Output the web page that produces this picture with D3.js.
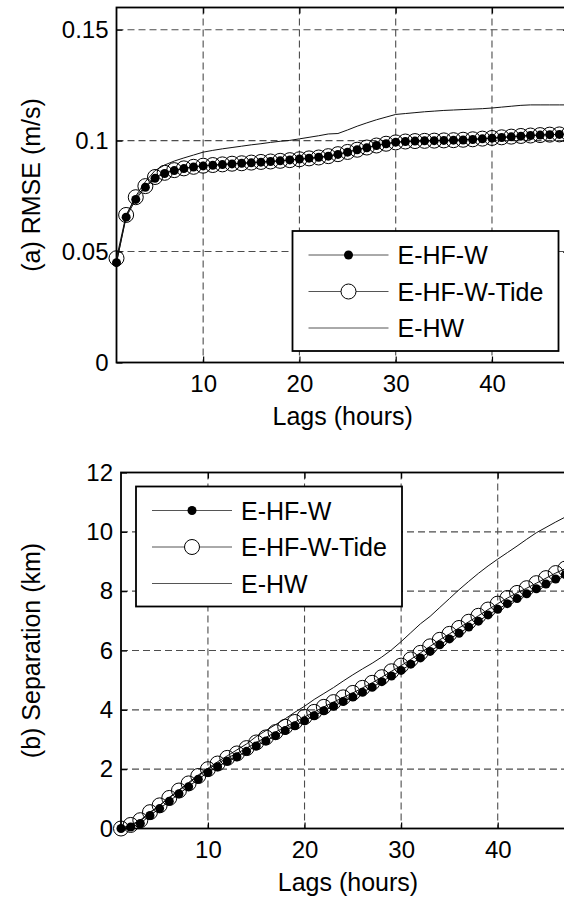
<!DOCTYPE html>
<html>
<head>
<meta charset="utf-8">
<script src="https://cdn.jsdelivr.net/npm/d3@7"></script>
<style>
  body { margin: 0; background: #fff; }
  svg { display: block; font-family: "Liberation Sans", Arial, sans-serif; }
</style>
</head>
<body>
<svg id="chart"></svg>
<script>
// lags in hours
const lags = d3.range(1, 49);

// (a) RMSE (m/s)
const rmseHFW = [0.045, 0.0655, 0.0735, 0.079, 0.083, 0.0852, 0.0865, 0.0874, 0.0881, 0.0886,
  0.0889, 0.0892, 0.0895, 0.0898, 0.09, 0.0903, 0.0906, 0.0909, 0.0913, 0.0917,
  0.0921, 0.0925, 0.093, 0.0938, 0.0948, 0.0959, 0.0968, 0.0978, 0.0986, 0.0993,
  0.0996, 0.0998, 0.0999, 0.1, 0.1001, 0.1002, 0.1003, 0.1005, 0.1008, 0.1011,
  0.1014, 0.1017, 0.102, 0.1023, 0.1025, 0.1027, 0.1028, 0.1029];
const rmseHFWTide = [0.047, 0.0665, 0.0745, 0.0795, 0.0836, 0.0855, 0.0867, 0.0875, 0.0882, 0.0887,
  0.089, 0.0893, 0.0896, 0.0898, 0.0901, 0.0904, 0.0906, 0.0909, 0.0912, 0.0916,
  0.092, 0.0924, 0.093, 0.0939, 0.0949, 0.0959, 0.0969, 0.0978, 0.0986, 0.0992,
  0.0996, 0.0998, 0.0999, 0.1, 0.1001, 0.1002, 0.1004, 0.1006, 0.1009, 0.1012,
  0.1015, 0.1018, 0.1021, 0.1023, 0.1025, 0.1027, 0.1028, 0.103];
const rmseHW = [0.045, 0.066, 0.075, 0.0815, 0.0865, 0.089, 0.0908, 0.0922, 0.0935, 0.0948,
  0.0956, 0.0963, 0.0969, 0.0975, 0.0981, 0.0986, 0.0992, 0.0997, 0.1001, 0.1008,
  0.1015, 0.1022, 0.103, 0.1032, 0.1048, 0.1065, 0.108, 0.1094, 0.1106, 0.1118,
  0.1122, 0.1126, 0.113, 0.1133, 0.1136, 0.1138, 0.114, 0.1142, 0.1144, 0.1147,
  0.1151, 0.1155, 0.1159, 0.1161, 0.1161, 0.1161, 0.1161, 0.1161];

// (b) Separation (km)
const sepHFW = [0, 0.05, 0.17, 0.44, 0.67, 0.92, 1.17, 1.41, 1.66, 1.89,
  2.08, 2.27, 2.42, 2.6, 2.78, 2.95, 3.13, 3.3, 3.46, 3.63,
  3.8, 3.97, 4.12, 4.28, 4.43, 4.59, 4.76, 4.95, 5.14, 5.33,
  5.54, 5.75, 5.97, 6.19, 6.39, 6.58, 6.79, 6.99, 7.2, 7.39,
  7.58, 7.75, 7.91, 8.08, 8.24, 8.41, 8.56, 8.72];
const sepHFWTide = [0, 0.12, 0.28, 0.55, 0.78, 1.03, 1.28, 1.52, 1.77, 2.0,
  2.19, 2.38, 2.53, 2.71, 2.9, 3.07, 3.25, 3.43, 3.59, 3.76,
  3.93, 4.1, 4.26, 4.42, 4.57, 4.74, 4.91, 5.1, 5.3, 5.49,
  5.7, 5.92, 6.14, 6.36, 6.56, 6.76, 6.97, 7.17, 7.38, 7.58,
  7.77, 7.94, 8.1, 8.27, 8.44, 8.61, 8.76, 8.92];
const sepHW = [0, 0.1, 0.25, 0.52, 0.78, 1.05, 1.3, 1.55, 1.8, 2.03,
  2.25, 2.45, 2.65, 2.85, 3.1, 3.3, 3.5, 3.7, 3.92, 4.12,
  4.35, 4.55, 4.75, 4.97, 5.18, 5.38, 5.57, 5.78, 6.02, 6.3,
  6.6, 6.9, 7.15, 7.45, 7.75, 8.05, 8.33, 8.6, 8.85, 9.08,
  9.3, 9.52, 9.75, 9.97, 10.15, 10.33, 10.5, 10.67];

const xTicks = [10, 20, 30, 40];
const rmseTicks = [0, 0.05, 0.1, 0.15];
const rmseTickLabels = ["0", "0.05", "0.1", "0.15"];
const sepTicks = [0, 2, 4, 6, 8, 10, 12];
const legendLabels = ["E-HF-W", "E-HF-W-Tide", "E-HW"];

const W = 564, H = 903;
const svg = d3.select("#chart").attr("width", W).attr("height", H);
svg.append("rect").attr("width", W).attr("height", H).attr("fill", "#fff");

function drawPanel(p) {
  const x = d3.scaleLinear().domain([1, 48]).range([p.left, p.right]);
  const y = d3.scaleLinear().domain(p.yDomain).range([p.bottom, p.top]);
  const g = svg.append("g");

  // dashed grid
  g.selectAll(".vgrid").data(xTicks).enter().append("line")
    .attr("x1", d => x(d)).attr("x2", d => x(d))
    .attr("y1", p.top).attr("y2", p.bottom)
    .attr("stroke", "#4d4d4d").attr("stroke-width", 1.1)
    .attr("stroke-dasharray", "7,4");
  g.selectAll(".hgrid").data(p.yTicks.filter(d => d > p.yDomain[0] && d < p.yDomain[1])).enter().append("line")
    .attr("x1", p.left).attr("x2", p.right)
    .attr("y1", d => y(d)).attr("y2", d => y(d))
    .attr("stroke", "#4d4d4d").attr("stroke-width", 1.1)
    .attr("stroke-dasharray", "7,4");

  // axes with inward ticks
  const bottomAxis = g.append("g").attr("transform", `translate(0,${p.bottom})`)
    .call(d3.axisBottom(x).tickValues(xTicks).tickSize(-6).tickPadding(12));
  g.append("g").attr("transform", `translate(0,${p.top})`)
    .call(d3.axisTop(x).tickValues(xTicks).tickSize(-6).tickFormat(""));
  const leftAxis = g.append("g").attr("transform", `translate(${p.left},0)`)
    .call(d3.axisLeft(y).tickValues(p.yTicks).tickSize(-6).tickPadding(8)
      .tickFormat((d, i) => p.yTickLabels[i]));
  g.append("g").attr("transform", `translate(${p.right},0)`)
    .call(d3.axisRight(y).tickValues(p.yTicks).tickSize(-6).tickFormat(""));
  g.selectAll(".domain").remove();
  g.selectAll(".tick line").attr("stroke", "#000").attr("stroke-width", 1.2);
  [bottomAxis, leftAxis].forEach(a => a.selectAll("text")
    .attr("font-size", 24).attr("fill", "#000")
    .attr("font-family", "'Liberation Sans', Arial, sans-serif"));

  // frame
  g.append("rect").attr("x", p.left).attr("y", p.top)
    .attr("width", p.right - p.left).attr("height", p.bottom - p.top)
    .attr("fill", "none").attr("stroke", "#000").attr("stroke-width", 1.8);

  // series
  const line = vals => d3.line().x((d, i) => x(lags[i])).y(d => y(d))(vals);
  g.append("path").attr("d", line(p.hw))
    .attr("fill", "none").attr("stroke", "#111").attr("stroke-width", 1);
  g.append("path").attr("d", line(p.tide))
    .attr("fill", "none").attr("stroke", "#111").attr("stroke-width", 1);
  g.append("path").attr("d", line(p.hfw))
    .attr("fill", "none").attr("stroke", "#111").attr("stroke-width", 1);
  g.selectAll(".tide").data(p.tide).enter().append("circle")
    .attr("cx", (d, i) => x(lags[i])).attr("cy", d => y(d)).attr("r", 7.5)
    .attr("fill", "none").attr("stroke", "#000").attr("stroke-width", 1);
  g.selectAll(".hfw").data(p.hfw).enter().append("circle")
    .attr("cx", (d, i) => x(lags[i])).attr("cy", d => y(d)).attr("r", 4.5)
    .attr("fill", "#000");

  // axis titles
  g.append("text").attr("x", (p.left + p.right) / 2).attr("y", p.bottom + 62)
    .attr("text-anchor", "middle").attr("font-size", 25).text("Lags (hours)");
  g.append("text")
    .attr("transform", `translate(40,${(p.top + p.bottom) / 2}) rotate(-90)`)
    .attr("text-anchor", "middle").attr("font-size", 25).text(p.yLabel);

  // legend
  const L = p.legend;
  const lg = g.append("g").attr("transform", `translate(${L.x},${L.y})`);
  lg.append("rect").attr("width", 266).attr("height", 120)
    .attr("fill", "#fff").attr("stroke", "#000").attr("stroke-width", 1.8);
  legendLabels.forEach((name, i) => {
    const cy = 24 + i * 36.5;
    lg.append("line").attr("x1", 16).attr("x2", 96).attr("y1", cy).attr("y2", cy)
      .attr("stroke", "#555").attr("stroke-width", 1);
    if (i === 0) lg.append("circle").attr("cx", 56).attr("cy", cy).attr("r", 4.5).attr("fill", "#000");
    if (i === 1) lg.append("circle").attr("cx", 56).attr("cy", cy).attr("r", 7.5)
      .attr("fill", "#fff").attr("stroke", "#000").attr("stroke-width", 1);
    lg.append("text").attr("x", 105).attr("y", cy).attr("dy", "0.36em")
      .attr("font-size", 25).text(name);
  });
}

drawPanel({
  left: 116.5, right: 569, top: 7.5, bottom: 362.5,
  yDomain: [0, 0.16], yTicks: rmseTicks, yTickLabels: rmseTickLabels,
  yLabel: "(a) RMSE (m/s)",
  hfw: rmseHFW, tide: rmseHFWTide, hw: rmseHW,
  legend: { x: 292.5, y: 231 }
});

drawPanel({
  left: 121, right: 575, top: 472.5, bottom: 828.5,
  yDomain: [0, 12], yTicks: sepTicks, yTickLabels: sepTicks.map(String),
  yLabel: "(b) Separation (km)",
  hfw: sepHFW, tide: sepHFWTide, hw: sepHW,
  legend: { x: 136, y: 486.5 }
});
</script>
</body>
</html>
